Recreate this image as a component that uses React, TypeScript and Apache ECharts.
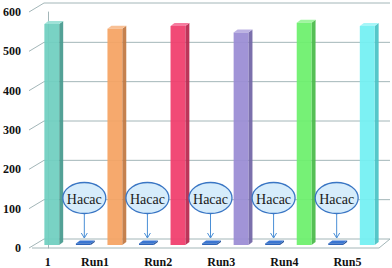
import React, { useEffect, useRef } from "react";
import * as echarts from "echarts";

// ---- data ----
const categoryLabels = ["1", "Run1", "Run2", "Run3", "Run4", "Run5"];
const labelPositions = [0, 1.5, 3.5, 5.5, 7.5, 9.5];
const mainBarPositions = [0, 2, 4, 6, 8, 10];
const mainBarValues = [562, 550, 557, 540, 565, 557];
const smallBarPositions = [1, 3, 5, 7, 9];
const smallBarValues = [4, 4, 4, 4, 4];
const calloutTexts = ["Hacac", "Hacac", "Hacac", "Hacac", "Hacac"];
const yTicks = [0, 100, 200, 300, 400, 500, 600];

// ---- styles ----
const mainFront = ["#6fcfc0", "#f5a262", "#f03c6c", "#9a8cd4", "#6cf06c", "#72f0f2"];
const mainSide = ["#4a9c90", "#c27a45", "#b82a50", "#7468a8", "#4cbc4c", "#4cc4c6"];
const mainTop = ["#9ae0d6", "#f8bd8f", "#f5759a", "#b8aee2", "#9af59a", "#a2f6f8"];
const smallFront = "#1c58b4";
const smallSide = "#15468f";
const smallTop = "#2f6fd0";
const gridColor = "#a3b6b8";
const SERIF = "serif";
const DX = 12;
const DY = -9;

function box(api: any, x: number, v: number, front: string, side: string, top: string) {
  const base = api.coord([x, 0]);
  const tp = api.coord([x, v]);
  const slot = api.size([1, 0])[0];
  const w = slot * 0.47;
  const ox = DX / 3;
  const oy = DY / 3;
  const xl = base[0] + ox - w / 2;
  const xr = xl + w;
  const yb = base[1] + oy;
  let yt = tp[1] + oy;
  if (yb - yt < 1.5) yt = yb - 1.5;
  return [
    {
      type: "polygon",
      shape: { points: [[xr, yt], [xr + ox, yt + oy], [xr + ox, yb + oy], [xr, yb]] },
      style: { fill: side, opacity: 0.95 },
    },
    {
      type: "polygon",
      shape: { points: [[xl, yt], [xl + ox, yt + oy], [xr + ox, yt + oy], [xr, yt]] },
      style: { fill: top, opacity: 0.95 },
    },
    {
      type: "rect",
      shape: { x: xl, y: yt, width: w, height: yb - yt },
      style: { fill: front, opacity: 0.93 },
    },
  ];
}

export default function App() {
  const ref = useRef<HTMLDivElement>(null);
  useEffect(() => {
    if (!ref.current) return;
    const chart = echarts.init(ref.current, undefined, { renderer: "svg" });
    const labelFont = {
      fontFamily: SERIF,
      fontWeight: "bold" as const,
      fontSize: 12,
      color: "#111",
    };
    chart.setOption({
      animation: false,
      grid: { left: 32, right: 13, top: 12, bottom: 20, containLabel: false },
      xAxis: {
        type: "value",
        min: -0.5,
        max: 10.5,
        interval: 0.5,
        axisLine: { show: false },
        axisTick: { show: false },
        splitLine: { show: false },
        axisLabel: {
          ...labelFont,
          margin: 8,
          showMinLabel: true,
          showMaxLabel: true,
          formatter: (val: number) => {
            const i = labelPositions.findIndex((p) => Math.abs(p - val) < 1e-6);
            return i >= 0 ? categoryLabels[i] : "";
          },
        },
      },
      yAxis: {
        type: "value",
        min: 0,
        max: 600,
        interval: 100,
        axisLine: { show: true, lineStyle: { color: gridColor, width: 1 } },
        axisTick: { show: false },
        splitLine: { show: false },
        axisLabel: { ...labelFont, margin: 11 },
      },
      series: [
        {
          type: "custom",
          clip: false,
          z: 1,
          data: yTicks.map((t) => [-0.5, t]),
          renderItem: (params: any, api: any) => {
            const t = api.value(1);
            const fl = api.coord([-0.5, t]);
            const fr = api.coord([10.5, t]);
            const ls = { stroke: gridColor, lineWidth: 1 };
            const children: any[] = [
              { type: "line", shape: { x1: fl[0] - 3, y1: fl[1], x2: fl[0] + DX, y2: fl[1] + DY }, style: ls },
              { type: "line", shape: { x1: fl[0] + DX, y1: fl[1] + DY, x2: fr[0] + DX - 1, y2: fr[1] + DY }, style: ls },
            ];
            if (t === 0) {
              children.push(
                { type: "line", shape: { x1: fl[0], y1: fl[1], x2: fr[0], y2: fr[1] }, style: ls },
                { type: "line", shape: { x1: fr[0], y1: fr[1], x2: fr[0] + DX - 1, y2: fr[1] + DY }, style: ls }
              );
            }
            return { type: "group", children };
          },
        },
        {
          type: "custom",
          clip: false,
          z: 3,
          data: mainBarPositions.map((p, i) => [p, mainBarValues[i], i]),
          renderItem: (params: any, api: any) => {
            const i = api.value(2);
            return {
              type: "group",
              children: box(api, api.value(0), api.value(1), mainFront[i], mainSide[i], mainTop[i]),
            };
          },
        },
        {
          type: "custom",
          clip: false,
          z: 4,
          data: smallBarPositions.map((p, i) => [p, smallBarValues[i], i]),
          renderItem: (params: any, api: any) => {
            const i = api.value(2);
            const x = api.value(0);
            const base = api.coord([x, 0]);
            const cx = base[0] + DX / 3 + 1;
            const cy = base[1] - 50;
            const tipY = base[1] - 10;
            const arrow = "#4a8fd6";
            return {
              type: "group",
              children: [
                ...box(api, x, api.value(1), smallFront, smallSide, smallTop),
                {
                  type: "line",
                  shape: { x1: cx, y1: cy + 15, x2: cx, y2: tipY },
                  style: { stroke: arrow, lineWidth: 1 },
                },
                {
                  type: "polyline",
                  shape: { points: [[cx - 3, tipY - 5], [cx, tipY], [cx + 3, tipY - 5]] },
                  style: { stroke: arrow, lineWidth: 1, fill: null },
                },
                {
                  type: "ellipse",
                  shape: { cx, cy, rx: 21.5, ry: 15.5 },
                  style: { fill: "#d6ecfb", stroke: "#3a76c4", lineWidth: 1.3 },
                },
                {
                  type: "text",
                  x: cx,
                  y: cy + 1,
                  style: {
                    text: calloutTexts[i],
                    align: "center",
                    verticalAlign: "middle",
                    fontFamily: SERIF,
                    fontSize: 14,
                    fill: "#1a1a1a",
                  },
                },
              ],
            };
          },
        },
      ],
    });
    return () => chart.dispose();
  }, []);
  return <div ref={ref} style={{ width: 392, height: 268, position: "absolute", left: 0, top: 0 }} />;
}
